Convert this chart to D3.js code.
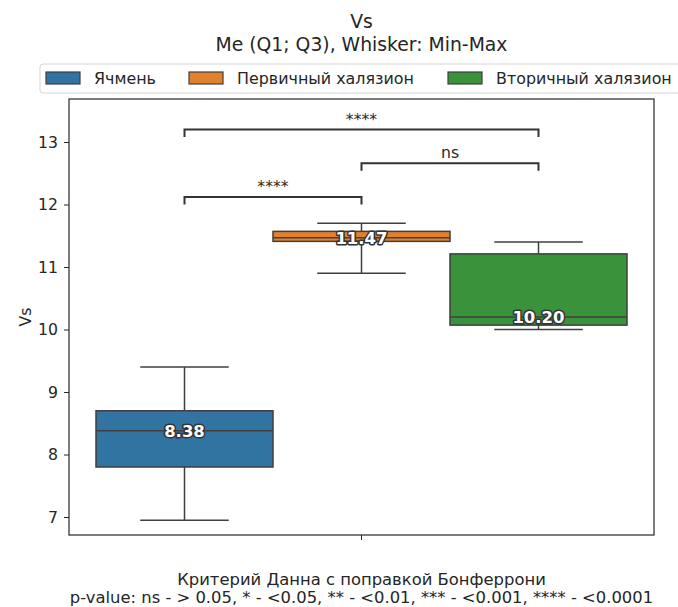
<!DOCTYPE html>
<html>
<head>
<meta charset="utf-8">
<script src="https://cdn.jsdelivr.net/npm/d3@7"></script>
<style>
  body { margin: 0; background: #fff; }
  svg { font-family: "DejaVu Sans", sans-serif; }
</style>
</head>
<body>
<div id="vis"></div>
<script>
// data
const groups = ["Ячмень", "Первичный халязион", "Вторичный халязион"];
const colors = ["#3274a1", "#e1812c", "#3a923a"];
const whiskLo = [6.95, 10.90, 10.00];
const q1 = [7.80, 11.41, 10.07];
const median = [8.38, 11.47, 10.20];
const q3 = [8.70, 11.57, 11.21];
const whiskHi = [9.40, 11.70, 11.40];
const yTicks = [7, 8, 9, 10, 11, 12, 13];

// significance brackets: from group, to group, level, label
const bracketFrom = [0, 1, 0];
const bracketTo = [1, 2, 2];
const bracketY = [12.12, 12.66, 13.20];
const bracketText = ["****", "ns", "****"];

const FRAME_WIDTH = 678;
const FRAME_HEIGHT = 607;
const MARGINS = {left: 69, right: 24, top: 99, bottom: 72};
const VIS_WIDTH = FRAME_WIDTH - MARGINS.left - MARGINS.right;
const VIS_HEIGHT = FRAME_HEIGHT - MARGINS.top - MARGINS.bottom;
const FS = 15.7; // matplotlib 10pt at this size

const svg = d3.select("#vis")
  .append("svg")
    .attr("width", FRAME_WIDTH)
    .attr("height", FRAME_HEIGHT);

const plot = svg.append("g")
  .attr("transform", "translate(" + MARGINS.left + "," + MARGINS.top + ")");

const Y_SCALE = d3.scaleLinear()
  .domain([6.712, 13.688])
  .range([VIS_HEIGHT, 0]);

// single x category, hue boxes inside it
const X_SCALE = d3.scaleBand()
  .domain(groups)
  .range([27, 558])
  .padding(0);

const bw = X_SCALE.bandwidth();
const cx = (i) => X_SCALE(groups[i]) + bw / 2;
const edge = "#3f3f3f";

// y axis
const yAxis = plot.append("g")
  .call(d3.axisLeft(Y_SCALE).tickValues(yTicks).tickFormat(d3.format("d"))
        .tickSize(5).tickPadding(6))
  .attr("font-size", FS + "px")
  .attr("font-family", "DejaVu Sans, sans-serif");
yAxis.select(".domain").remove();
yAxis.selectAll("text").attr("fill", "#262626");
yAxis.selectAll("line").attr("stroke", "#262626");

// x axis, one unlabeled tick
plot.append("line")
  .attr("x1", VIS_WIDTH / 2).attr("x2", VIS_WIDTH / 2)
  .attr("y1", VIS_HEIGHT).attr("y2", VIS_HEIGHT + 5)
  .attr("stroke", "#262626");

// boxes
const box = plot.append("g").selectAll("g")
  .data(groups)
  .enter()
  .append("g");

box.append("line")
  .attr("x1", (d, i) => cx(i)).attr("x2", (d, i) => cx(i))
  .attr("y1", (d, i) => Y_SCALE(whiskLo[i]))
  .attr("y2", (d, i) => Y_SCALE(q1[i]))
  .attr("stroke", edge).attr("stroke-width", 1.5);
box.append("line")
  .attr("x1", (d, i) => cx(i)).attr("x2", (d, i) => cx(i))
  .attr("y1", (d, i) => Y_SCALE(q3[i]))
  .attr("y2", (d, i) => Y_SCALE(whiskHi[i]))
  .attr("stroke", edge).attr("stroke-width", 1.5);
box.append("line")
  .attr("x1", (d, i) => cx(i) - bw / 4).attr("x2", (d, i) => cx(i) + bw / 4)
  .attr("y1", (d, i) => Y_SCALE(whiskLo[i]))
  .attr("y2", (d, i) => Y_SCALE(whiskLo[i]))
  .attr("stroke", edge).attr("stroke-width", 1.5);
box.append("line")
  .attr("x1", (d, i) => cx(i) - bw / 4).attr("x2", (d, i) => cx(i) + bw / 4)
  .attr("y1", (d, i) => Y_SCALE(whiskHi[i]))
  .attr("y2", (d, i) => Y_SCALE(whiskHi[i]))
  .attr("stroke", edge).attr("stroke-width", 1.5);
box.append("rect")
  .attr("x", (d) => X_SCALE(d))
  .attr("width", bw)
  .attr("y", (d, i) => Y_SCALE(q3[i]))
  .attr("height", (d, i) => Y_SCALE(q1[i]) - Y_SCALE(q3[i]))
  .attr("fill", (d, i) => colors[i])
  .attr("stroke", edge).attr("stroke-width", 1.5);
box.append("line")
  .attr("x1", (d) => X_SCALE(d)).attr("x2", (d) => X_SCALE(d) + bw)
  .attr("y1", (d, i) => Y_SCALE(median[i]))
  .attr("y2", (d, i) => Y_SCALE(median[i]))
  .attr("stroke", edge).attr("stroke-width", 1.5);
box.append("text")
  .attr("x", (d, i) => cx(i))
  .attr("y", (d, i) => Y_SCALE(median[i]))
  .attr("dy", "0.36em")
  .attr("text-anchor", "middle")
  .attr("font-size", "16.5px")
  .attr("font-weight", "bold")
  .attr("fill", "#fff")
  .attr("stroke", "#333")
  .attr("stroke-width", 3)
  .attr("stroke-linejoin", "round")
  .attr("paint-order", "stroke")
  .text((d, i) => median[i].toFixed(2));

// brackets
const br = plot.append("g").selectAll("g")
  .data(bracketText)
  .enter()
  .append("g");
br.append("path")
  .attr("d", (d, i) => {
    const x1 = cx(bracketFrom[i]), x2 = cx(bracketTo[i]);
    const y = Y_SCALE(bracketY[i]), yb = Y_SCALE(bracketY[i] - 0.12);
    return "M" + x1 + "," + yb + "V" + y + "H" + x2 + "V" + yb;
  })
  .attr("fill", "none")
  .attr("stroke", "#333")
  .attr("stroke-width", 2);
br.append("text")
  .attr("x", (d, i) => (cx(bracketFrom[i]) + cx(bracketTo[i])) / 2)
  .attr("y", (d, i) => Y_SCALE(bracketY[i]) - 5)
  .attr("text-anchor", "middle")
  .attr("font-size", FS + "px")
  .attr("fill", "#262626")
  .text((d) => d);

// frame
plot.append("rect")
  .attr("width", VIS_WIDTH).attr("height", VIS_HEIGHT)
  .attr("fill", "none").attr("stroke", "#262626").attr("stroke-width", 1.2);

// y label
svg.append("text")
  .attr("transform", "translate(25," + (MARGINS.top + VIS_HEIGHT / 2) + ") rotate(-90)")
  .attr("text-anchor", "middle")
  .attr("dy", "0.36em")
  .attr("font-size", FS + "px")
  .attr("fill", "#262626")
  .text("Vs");

// titles
const midX = MARGINS.left + VIS_WIDTH / 2;
svg.append("text").attr("x", midX).attr("y", 28)
  .attr("text-anchor", "middle").attr("font-size", "18.8px").attr("fill", "#262626")
  .text("Vs");
svg.append("text").attr("x", midX).attr("y", 51)
  .attr("text-anchor", "middle").attr("font-size", "18.8px").attr("fill", "#262626")
  .text("Me (Q1; Q3), Whisker: Min-Max");

// legend
const legend = svg.append("g");
legend.append("rect")
  .attr("x", 40).attr("y", 64).attr("width", 660).attr("height", 29)
  .attr("rx", 3)
  .attr("fill", "#fff").attr("fill-opacity", 0.8)
  .attr("stroke", "#d6d6d6");
const legX = [46, 189, 448];
legend.selectAll("rect.patch")
  .data(groups)
  .enter()
  .append("rect")
  .attr("class", "patch")
  .attr("x", (d, i) => legX[i]).attr("y", 72)
  .attr("width", 34).attr("height", 12)
  .attr("fill", (d, i) => colors[i])
  .attr("stroke", edge).attr("stroke-width", 1.2);
legend.selectAll("text")
  .data(groups)
  .enter()
  .append("text")
  .attr("x", (d, i) => legX[i] + 48).attr("y", 78)
  .attr("dy", "0.36em")
  .attr("font-size", "15.9px")
  .attr("fill", "#262626")
  .text((d) => d);

// footnote
svg.append("text").attr("x", midX).attr("y", 585)
  .attr("text-anchor", "middle").attr("font-size", "16.4px").attr("fill", "#262626")
  .text("Критерий Данна с поправкой Бонферрони");
svg.append("text").attr("x", midX).attr("y", 603)
  .attr("text-anchor", "middle").attr("font-size", "16.4px").attr("fill", "#262626")
  .text("p-value: ns - > 0.05, * - <0.05, ** - <0.01, *** - <0.001, **** - <0.0001");
</script>
</body>
</html>
